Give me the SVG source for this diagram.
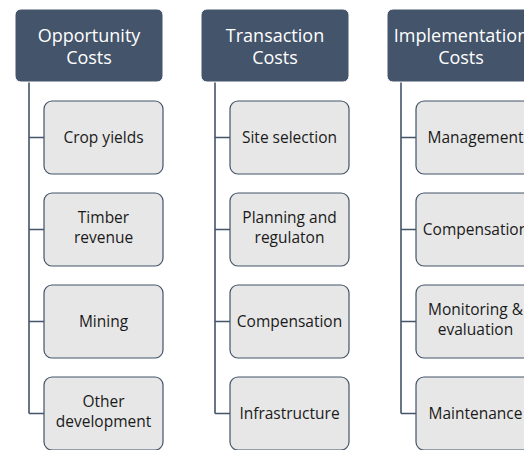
<svg xmlns="http://www.w3.org/2000/svg" width="524" height="450" viewBox="0 0 524 450">
<style>
.hd{fill:#44546A;stroke:#FFFFFF;stroke-width:1}
.ht{fill:#FFFFFF;font-family:"Open Sans",sans-serif;font-size:18px;text-anchor:middle}
.bx{fill:#E7E7E7;stroke:#44546A;stroke-width:1.2}
.bt{fill:#1A1A1A;font-family:"Open Sans",sans-serif;font-size:15.5px;text-anchor:middle}
.cn{fill:none;stroke:#44546A;stroke-width:1.6}
</style>
<rect width="524" height="450" fill="#FFFFFF"/>
<g id="connectors">
<path class="cn" d="M29,82 V413.5 M29,137.5 H44 M29,229.5 H44 M29,321.5 H44 M29,413.5 H44"/>
<path class="cn" d="M215,82 V413.5 M215,137.5 H230 M215,229.5 H230 M215,321.5 H230 M215,413.5 H230"/>
<path class="cn" d="M401,82 V413.5 M401,137.5 H416 M401,229.5 H416 M401,321.5 H416 M401,413.5 H416"/>
</g>
<g id="h1"><rect class="hd" x="15" y="9" width="148" height="73" rx="6"/><text class="ht" x="89" y="42">Opportunity</text><text class="ht" x="89" y="64">Costs</text></g>
<g id="h2"><rect class="hd" x="201" y="9" width="148" height="73" rx="6"/><text class="ht" x="275" y="42">Transaction</text><text class="ht" x="275" y="64">Costs</text></g>
<g id="h3"><rect class="hd" x="387" y="9" width="148" height="73" rx="6"/><text class="ht" x="461" y="42">Implementation</text><text class="ht" x="461" y="64">Costs</text></g>

<g id="c1a"><rect class="bx" x="44" y="101" width="119" height="73" rx="8"/><text class="bt" x="103.5" y="143">Crop yields</text></g>
<g id="c1b"><rect class="bx" x="44" y="193" width="119" height="73" rx="8"/><text class="bt" x="103.5" y="222.5">Timber</text><text class="bt" x="103.5" y="242.5">revenue</text></g>
<g id="c1c"><rect class="bx" x="44" y="285" width="119" height="73" rx="8"/><text class="bt" x="103.5" y="327">Mining</text></g>
<g id="c1d"><rect class="bx" x="44" y="377" width="119" height="73" rx="8"/><text class="bt" x="103.5" y="406.5">Other</text><text class="bt" x="103.5" y="426.5">development</text></g>

<g id="c2a"><rect class="bx" x="230" y="101" width="119" height="73" rx="8"/><text class="bt" x="289.5" y="143">Site selection</text></g>
<g id="c2b"><rect class="bx" x="230" y="193" width="119" height="73" rx="8"/><text class="bt" x="289.5" y="222.5">Planning and</text><text class="bt" x="289.5" y="242.5">regulaton</text></g>
<g id="c2c"><rect class="bx" x="230" y="285" width="119" height="73" rx="8"/><text class="bt" x="289.5" y="327">Compensation</text></g>
<g id="c2d"><rect class="bx" x="230" y="377" width="119" height="73" rx="8"/><text class="bt" x="289.5" y="419">Infrastructure</text></g>

<g id="c3a"><rect class="bx" x="416" y="101" width="119" height="73" rx="8"/><text class="bt" x="475.5" y="143">Management</text></g>
<g id="c3b"><rect class="bx" x="416" y="193" width="119" height="73" rx="8"/><text class="bt" x="475.5" y="235">Compensation</text></g>
<g id="c3c"><rect class="bx" x="416" y="285" width="119" height="73" rx="8"/><text class="bt" x="475.5" y="314.5">Monitoring &amp;</text><text class="bt" x="475.5" y="334.5">evaluation</text></g>
<g id="c3d"><rect class="bx" x="416" y="377" width="119" height="73" rx="8"/><text class="bt" x="475.5" y="419">Maintenance</text></g>
</svg>
